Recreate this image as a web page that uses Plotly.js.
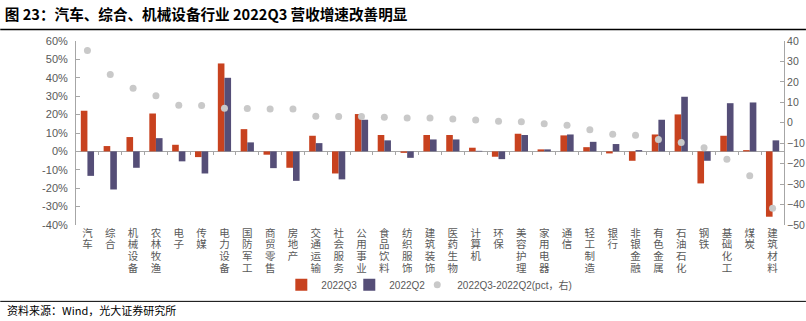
<!DOCTYPE html>
<html>
<head>
<meta charset="utf-8">
<script src="https://cdn.plot.ly/plotly-3.0.1.min.js"></script>
<style>html,body{margin:0;padding:0;background:#fff;}#chart{width:806px;height:321px;}</style>
</head>
<body>
<div id="chart"></div>
<script>
const categories = ['汽车','综合','机械设备','农林牧渔','电子','传媒','电力设备','国防军工','商贸零售','房地产','交通运输','社会服务','公用事业','食品饮料','纺织服饰','建筑装饰','医药生物','计算机','环保','美容护理','家用电器','通信','轻工制造','银行','非银金融','有色金属','石油石化','钢铁','基础化工','煤炭','建筑材料'];
const q3 = [22.1,2.9,7.8,20.6,3.6,-3.1,47.8,12.1,-1.8,-8.9,8.5,-12.0,20.3,8.9,-0.8,8.9,8.9,2.0,-2.9,9.6,1.1,8.7,2.3,-1.1,-5.1,9.2,20.1,-17.4,8.5,0.7,-35.5];
const q2 = [-13.3,-20.7,-8.9,7.2,-5.4,-12.0,40.0,4.9,-9.1,-16.0,4.5,-15.2,17.2,6.0,-3.5,6.5,6.5,0.3,-4.2,8.9,1.1,9.2,5.2,4.0,0.7,17.2,29.7,-5.1,26.2,26.6,6.0];
const diff = [35.4,23.6,16.9,13.2,8.6,8.5,7.1,7.0,6.7,6.7,3.2,3.1,3.1,2.7,2.3,2.3,1.9,1.3,0.8,0.5,-0.5,-1.2,-3.4,-5.6,-6.1,-8.2,-9.6,-12.2,-17.8,-25.9,-41.8];
const leftTicks = [-40,-30,-20,-10,0,10,20,30,40,50,60];
const rightTicks = [-50,-40,-30,-20,-10,0,10,20,30,40];
const seriesNames = ['2022Q3','2022Q2','2022Q3-2022Q2(pct，右)'];

const FONT = 'Liberation Sans, Arial, Noto Sans CJK SC, sans-serif';
const GREY = '#595959';
const AXC = '#A6A6A6';
const verticalLabels = categories.map(c => c.split('').join('<br>'));
const leftRange = [leftTicks[0], leftTicks[leftTicks.length-1]];
const rightRange = [rightTicks[0], rightTicks[rightTicks.length-1]];
const catRange = [-0.5, categories.length - 0.5];
const boundaries = categories.slice(1).map((c, i) => i + 0.5);

const traces = [
  {type:'bar', name:seriesNames[0], x:categories, y:q3, marker:{color:'#C8421F'}, yaxis:'y', legend:'legend'},
  {type:'bar', name:seriesNames[1], x:categories, y:q2, marker:{color:'#554E77'}, yaxis:'y', legend:'legend2'},
  {type:'scatter', mode:'markers', name:seriesNames[2], x:categories, y:diff, yaxis:'y2', legend:'legend3',
   marker:{color:'#C9C9C9', size:7}},
  {type:'scatter', x:[], y:[], xaxis:'x2', yaxis:'y', showlegend:false, hoverinfo:'skip'}
];

function legendAt(x){
  return {orientation:'h', x:x, xanchor:'left', y:-0.325, yanchor:'middle',
    font:{size:10, color:GREY, family:FONT}, itemwidth:30, bgcolor:'rgba(0,0,0,0)'};
}

const layout = {
  width:806, height:321,
  margin:{l:76, r:22, t:41, b:96, pad:0},
  paper_bgcolor:'#fff', plot_bgcolor:'#fff',
  font:{family:FONT, size:11, color:GREY},
  barmode:'group', bargap:0.42, bargroupgap:0,
  showlegend:true,
  legend:legendAt(0.290),
  legend2:legendAt(0.386),
  legend3:legendAt(0.482),
  title:{text:'<b>图 23：汽车、综合、机械设备行业 2022Q3 营收增速改善明显</b>', x:0.006, xanchor:'left', xref:'container',
    y:0.955, yanchor:'middle', yref:'container', font:{family:'Noto Sans CJK SC, sans-serif', size:14.6, color:'#000'}},
  xaxis:{type:'category', range:catRange, tickmode:'array', tickvals:categories, ticktext:verticalLabels, tickangle:0,
    showline:false, showgrid:false, zeroline:false, ticks:'', automargin:false,
    tickfont:{family:'Noto Sans CJK SC, sans-serif', size:10.5, color:GREY}},
  xaxis2:{type:'linear', range:catRange, overlaying:'x', anchor:'free',
    position:(0 - leftRange[0]) / (leftRange[1] - leftRange[0]),
    tickmode:'array', tickvals:boundaries, ticks:'outside', ticklen:3, tickcolor:AXC, tickwidth:1,
    showticklabels:false, showline:false, showgrid:false, zeroline:false},
  yaxis:{range:leftRange, tickmode:'array', tickvals:leftTicks, ticktext:leftTicks.map(v=>v+'%'),
    showgrid:false, zeroline:true, zerolinecolor:AXC, zerolinewidth:1.5,
    showline:true, linecolor:AXC, linewidth:1, ticks:'inside', ticklen:4, tickcolor:AXC,
    ticklabelstandoff:5, tickfont:{size:11, color:GREY}, automargin:false},
  yaxis2:{range:rightRange, tickmode:'array', tickvals:rightTicks, overlaying:'y', side:'right',
    showgrid:false, zeroline:false, showline:true, linecolor:AXC, linewidth:1,
    ticks:'inside', ticklen:4, tickcolor:AXC, ticklabelstandoff:0, tickfont:{size:10.5, color:GREY}, automargin:false},
  shapes:[
    {type:'line', xref:'paper', yref:'paper', x0:-0.107, x1:1.031, y0:1.063, y1:1.063, line:{color:'#000', width:1.5}},
    {type:'line', xref:'paper', yref:'paper', x0:-0.107, x1:1.031, y0:-0.415, y1:-0.415, line:{color:'#000', width:1}}
  ],
  annotations:[
    {text:'资料来源：Wind，光大证券研究所', xref:'paper', yref:'paper', x:-0.1, xanchor:'left', y:-0.462, yanchor:'middle',
     showarrow:false, font:{family:'Noto Sans CJK SC, sans-serif', size:11, color:'#000'}}
  ]
};

function tightenLabels(){
  document.querySelectorAll('#chart .xtick text tspan.line').forEach(t => {
    const orig = t.getAttribute('data-dy0') || t.getAttribute('dy');
    if (!t.getAttribute('data-dy0')) t.setAttribute('data-dy0', orig);
    const dy = parseFloat(orig);
    if (!isNaN(dy)) t.setAttribute('dy', (dy/1.3*1.12) + 'em');
  });
}
const gd = document.getElementById('chart');
Plotly.newPlot(gd, traces, layout, {displayModeBar:false, staticPlot:true}).then(() => {
  tightenLabels();
  gd.on('plotly_afterplot', tightenLabels);
  setTimeout(tightenLabels, 50);
  setTimeout(tightenLabels, 300);
});
</script>
</body>
</html>
